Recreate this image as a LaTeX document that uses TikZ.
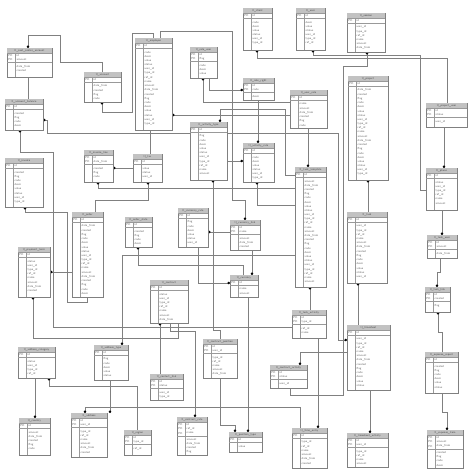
\documentclass[tikz,border=0pt]{standalone}
\usetikzlibrary{arrows.meta,calc}
\pgfdeclarelayer{bg}
\pgfsetlayers{bg,main}
\tikzset{
  tbl/.style={draw=black!50,line width=0.55pt,fill=white,inner sep=0pt,outer sep=0pt,rectangle},
  hdr/.style={fill=black!24},
  tline/.style={draw=black!40,line width=0.35pt},
  ttl/.style={font=\sffamily\fontsize{2.8}{3.2}\selectfont,text=black!70,inner sep=0pt},
  fld/.style={font=\sffamily\fontsize{2.9}{3.3}\selectfont,text=black!60,inner sep=0pt,anchor=west},
  conn/.style={draw=black!50,line width=0.65pt},
  ds/.style={conn,{Circle[length=2.6pt,color=black]}-},
  de/.style={conn,-{Circle[length=2.6pt,color=black]}}
}
\newcommand\fieldname[1]{\ifcase#1 name\or code\or type\_id\or created\or status\or amount\or descr\or ref\_id\or flag\or user\_id\or date\_from\or value\fi}
\newcommand{\erd}[7]{%
  \node[tbl,minimum width=#4pt,minimum height=#5pt] (#1) at ({#2+#4/2},{#3+#5/2}) {};
  \fill[hdr] ([shift={(0.3pt,-0.3pt)}]#1.north west) rectangle ([shift={(-0.3pt,-5pt)}]#1.north east);
  \draw[tline] ([yshift=-5pt]#1.north west) -- ([yshift=-5pt]#1.north east);
  \node[ttl] at ([yshift=-2.6pt]#1.north) {#7};
  \draw[tline] ([xshift=8pt,yshift=-5pt]#1.north west) -- ([xshift=8pt]#1.south west);
  \pgfmathsetmacro\sepy{5+#6*4.2+1.2}
  \draw[tline] ([yshift=-\sepy pt]#1.north west) -- ([yshift=-\sepy pt]#1.north east);
  \pgfmathtruncatemacro\nrows{(#5-8.6)/4.2}
  \foreach \i in {1,...,\nrows}{%
    \pgfmathsetmacro\ry{5+(\i-0.5)*4.2+0.5+(\i>#6)*2.4}
    \pgfmathtruncatemacro\k{mod(\i*5+#2,12)}
    \node[fld] at ([xshift=9.5pt,yshift=-\ry pt]#1.north west) {\ifnum\i=1 id\else\fieldname{\k}\fi};
    \ifnum\i>#6\relax\else
      \node[fld] at ([xshift=1.2pt,yshift=-\ry pt]#1.north west) {PK};
    \fi
  }%
}
\begin{document}
\begin{tikzpicture}[x=1pt,y=-1pt]
\begin{pgfonlayer}{bg}
\fill[white] (0,0) rectangle (468,470);
\end{pgfonlayer}
\useasboundingbox (0,0) rectangle (468,470);
% tables
\erd{A}{7}{48}{45}{29}{2}{tl\_cost\_center\_account}
\erd{B}{84}{72}{37}{30}{1}{tl\_account}
\erd{C}{5}{99}{38}{31}{1}{tl\_account\_balance}
\erd{D}{135}{38}{37}{92}{1}{tl\_employee}
\erd{E}{243}{8}{29}{42}{1}{tl\_client}
\erd{F}{190}{47}{27}{31}{2}{tl\_role\_user}
\erd{G}{243}{78}{31}{22}{2}{tl\_role\_right}
\erd{H}{290}{90}{37}{38}{1}{tl\_user\_role}
\erd{I}{296}{8}{29}{42}{1}{tl\_user}
\erd{J}{347}{13}{38}{39}{1}{tl\_session}
\erd{K}{348}{76}{40}{104}{1}{tl\_project}
\erd{L}{426}{103}{41}{24}{2}{tl\_project\_user}
\erd{M}{426}{168}{31}{42}{1}{tl\_phase}
\erd{N}{5}{158}{38}{49}{1}{tl\_invoice}
\erd{O}{84}{150}{29}{32}{2}{tl\_invoice\_line}
\erd{P}{133}{154}{29}{28}{1}{tl\_tax}
\erd{Q}{72}{212}{31}{85}{1}{tl\_order}
\erd{R}{125}{217}{27}{30}{1}{tl\_order\_state}
\erd{S}{18}{247}{32}{50}{1}{tl\_payment\_term}
\erd{T}{190}{122}{37}{58}{1}{tl\_activity\_type}
\erd{U}{243}{143}{31}{39}{1}{tl\_activity\_rate}
\erd{V}{295}{167}{31}{120}{1}{tl\_task\_template}
\erd{W}{178}{208}{30}{39}{1}{tl\_currency\_rate}
\erd{X}{230}{220}{30}{30}{2}{tl\_currency\_link}
\erd{Y}{230}{275}{28}{22}{1}{tl\_currency}
\erd{Z}{150}{280}{38}{43}{1}{tl\_contract}
\erd{AA}{347}{212}{40}{71}{1}{tl\_task}
\erd{AB}{427}{235}{30}{23}{2}{tl\_task\_user}
\erd{AC}{425}{287}{25}{25}{2}{tl\_task\_link}
\erd{AD}{18}{347}{37}{31}{1}{tl\_address\_category}
\erd{AE}{94}{345}{34}{35}{1}{tl\_address\_type}
\erd{AF}{19}{418}{31}{37}{1}{tl\_country}
\erd{AG}{71}{413}{36}{44}{2}{tl\_address}
\erd{AH}{124}{430}{27}{25}{2}{tl\_region}
\erd{AI}{150}{374}{33}{26}{2}{tl\_contact\_link}
\erd{AJ}{203}{339}{34}{39}{2}{tl\_contract\_position}
\erd{AK}{270}{365}{37}{23}{2}{tl\_contract\_activity}
\erd{AL}{177}{417}{30}{38}{3}{tl\_contract\_rate}
\erd{AM}{229}{432}{33}{20}{1}{tl\_position\_type}
\erd{AN}{292}{310}{34}{28}{2}{tl\_task\_activity}
\erd{AO}{292}{428}{35}{40}{1}{tl\_time\_entry}
\erd{AP}{347}{325}{43}{65}{1}{tl\_timesheet}
\erd{AQ}{347}{433}{41}{34}{2}{tl\_timesheet\_activity}
\erd{AR}{425}{352}{33}{41}{1}{tl\_expense\_report}
\erd{AS}{427}{430}{36}{38}{3}{tl\_expense\_item}
% connectors
\begin{pgfonlayer}{bg}
\draw[ds] (28,0 |- A.north) |- (60,35) |- (102,62) -- (102,0 |- B.north);
\draw[conn] (28,0 |- A.south) -- (28,0 |- C.north);
\draw[ds] (102,0 |- B.south) |- (132,112) |- (153,33) -- (153,0 |- D.north);
\draw[de] (160,0 |- D.north) |- (232,31) |- (245,200) -- (245,0 |- X.north);
\draw[ds] (D.east |- 0,115) -- (H.west |- 0,115);
\draw[ds] (203,0 |- F.south) |- (H.west |- 0,102);
\draw[de] (209,0 |- F.south) |- (G.west |- 0,90);
\draw[ds] (257,0 |- E.south) |- (447,58) -- (447,0 |- L.north);
\draw[ds] (313,0 |- I.south) |- (420,55) |- (M.west |- 0,190);
\draw[ds] (367,0 |- J.south) |- (343,66) -- (343,395) -| (290,0 |- AK.south);
\draw[ds] (C.east |- 0,120) -| (47,133) -- (T.west |- 0,133);
\draw[de] (T.east |- 0,133) -- (338,133) |- (AP.west |- 0,340);
\draw[ds] (O.east |- 0,168) -- (P.west |- 0,168);
\draw[ds] (98,0 |- O.south) |- (V.west |- 0,188);
\draw[ds] (25,0 |- N.south) |- (67,212) |- (87,302) -- (87,0 |- Q.south);
\draw[ds] (20,0 |- C.south) |- (53,152) |- (AN.west |- 0,327);
\draw[ds] (S.east |- 0,272) -- (Q.west |- 0,272);
\draw[ds] (33,0 |- S.south) |- (178,338) -- (178,0 |- Z.south);
\draw[de] (T.east |- 0,161) -- (U.west |- 0,161);
\draw[ds] (257,0 |- U.south) |- (V.west |- 0,205);
\draw[ds] (W.east |- 0,232) -- (X.west |- 0,232);
\draw[de] (198,0 |- W.south) |- (Y.west |- 0,283);
\draw[ds] (138,0 |- R.south) |- (243,265) -- (243,0 |- Y.north);
\draw[de] (252,0 |- X.south) -- (252,0 |- Y.north);
\draw[ds] (213,0 |- T.south) |- (220,330) -- (220,0 |- AJ.north);
\draw[ds] (160,0 |- Z.south) -- (160,0 |- AI.north);
\draw[de] (170,0 |- Z.south) |- (195,331) -- (195,0 |- AL.north);
\draw[de] (220,0 |- AJ.south) |- (235,425) -- (235,0 |- AM.north);
\draw[de] (248,0 |- Y.south) -- (248,0 |- AM.north);
\draw[ds] (49,0 |- AD.south) |- (137,386) -- (137,0 |- AH.north);
\draw[de] (35,0 |- AD.south) -- (35,0 |- AF.north);
\draw[de] (110,0 |- AE.south) -- (110,0 |- AG.north);
\draw[ds] (85,0 |- AG.north) |- (300,407) -- (300,0 |- AO.north);
\draw[ds] (368,0 |- K.south) -- (368,0 |- AA.north);
\draw[ds] (358,0 |- AA.south) -- (358,0 |- AP.north);
\draw[de] (370,0 |- AP.south) -- (370,0 |- AQ.north);
\draw[ds] (438,0 |- AC.south) |- (442,332) -- (442,0 |- AR.north);
\draw[de] (442,0 |- AR.south) |- (447,412) -- (447,0 |- AS.north);
\draw[de] (442,0 |- M.south) -- (442,0 |- AB.north);
\draw[de] (440,0 |- AB.south) |- (437,272) -- (437,0 |- AC.north);
\draw[de] (444,0 |- L.south) -- (444,0 |- M.north);
\draw[ds] (310,0 |- V.south) -- (310,0 |- AN.north);
\draw[de] (318,0 |- AN.south) -- (318,0 |- AO.north);
\draw[ds] (300,0 |- AK.north) |- (AP.west |- 0,352);
\draw[de] (258,0 |- G.south) -- (258,0 |- U.north);
\draw[de] (308,0 |- H.south) -- (308,0 |- V.north);
\draw[ds] (148,0 |- P.south) |- (95,200) -- (95,0 |- Q.north);
\draw[conn] (150,0 |- D.south) -- (150,0 |- P.north);
\draw[ds] (220,0 |- T.north) |- (285,109) |- (V.west |- 0,175);
\draw[de] (V.west |- 0,255) -| (122,0 |- AE.north);
\end{pgfonlayer}
\end{tikzpicture}
\end{document}
